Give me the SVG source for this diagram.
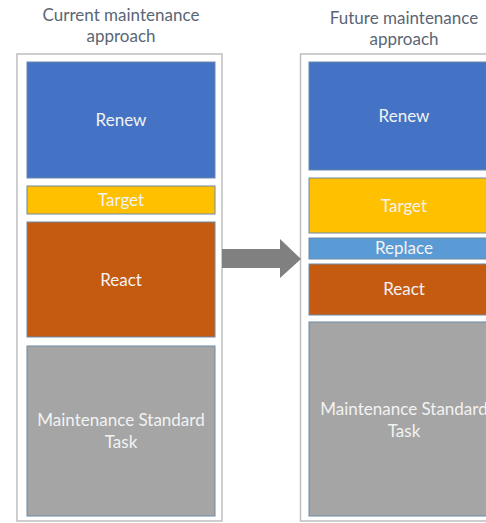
<svg xmlns="http://www.w3.org/2000/svg" width="486" height="523" viewBox="0 0 486 523">
<style>
.title{font-family:Lato,"Open Sans",sans-serif;font-size:17px;fill:#5a6675;text-anchor:middle}
.lbl{font-family:Lato,"Open Sans",sans-serif;font-size:17px;fill:#f2f2f2;text-anchor:middle}
.frame{fill:#fff;stroke:#bfbfbf;stroke-width:1.5}
.blk{stroke:#6a8aa8;stroke-width:1}
</style>
<rect width="486" height="523" fill="#fff"/>
<g id="current">
<text class="title" x="121" y="21">Current maintenance</text>
<text class="title" x="121" y="42">approach</text>
<rect class="frame" x="17" y="54" width="205" height="467"/>
</g>
<g id="future">
<text class="title" x="404" y="24">Future maintenance</text>
<text class="title" x="404" y="45">approach</text>
<rect class="frame" x="300.5" y="54" width="200" height="467"/>
</g>
<g id="c-renew"><rect class="blk" x="27" y="62" width="188" height="116" fill="#4472c4"/><text class="lbl" x="121" y="126">Renew</text></g>
<g id="c-target"><rect class="blk" x="27" y="186" width="188" height="28" fill="#ffc000"/><text class="lbl" x="121" y="206">Target</text></g>
<g id="c-react"><rect class="blk" x="27" y="222" width="188" height="115" fill="#c55a11"/><text class="lbl" x="121" y="286">React</text></g>
<g id="c-mst"><rect class="blk" x="27" y="346" width="188" height="170" fill="#a5a5a5"/><text class="lbl" x="121" y="426">Maintenance Standard</text><text class="lbl" x="121" y="448">Task</text></g>
<g id="f-renew"><rect class="blk" x="309" y="62" width="192" height="108" fill="#4472c4"/><text class="lbl" x="404" y="122">Renew</text></g>
<g id="f-target"><rect class="blk" x="309" y="178" width="192" height="55" fill="#ffc000"/><text class="lbl" x="404" y="212">Target</text></g>
<g id="f-replace"><rect class="blk" x="309" y="238" width="192" height="21" fill="#5b9bd5"/><text class="lbl" x="404" y="254">Replace</text></g>
<g id="f-react"><rect class="blk" x="309" y="264" width="192" height="51" fill="#c55a11"/><text class="lbl" x="404" y="295">React</text></g>
<g id="f-mst"><rect class="blk" x="309" y="322" width="192" height="194" fill="#a5a5a5"/><text class="lbl" x="404" y="415">Maintenance Standard</text><text class="lbl" x="404" y="437">Task</text></g>
<g id="connectors">
<polygon points="222,249 280,249 280,239 301,259 280,278 280,268 222,268" fill="#808080"/>
</g>
</svg>
